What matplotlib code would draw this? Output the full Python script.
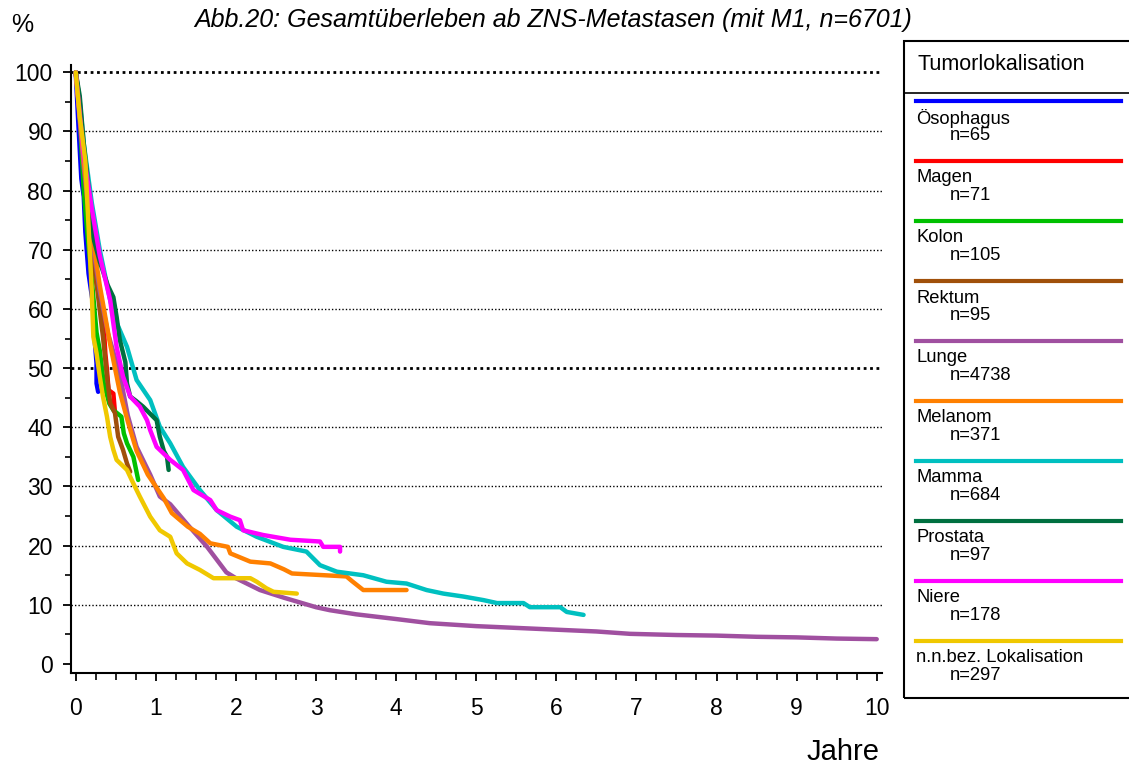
import matplotlib
matplotlib.use("Agg")
import matplotlib.pyplot as plt
from matplotlib.lines import Line2D
from matplotlib.patches import Rectangle

plt.rcParams['font.family'] = ['Liberation Sans', 'DejaVu Sans']

# ---------------- data (years, survival %) ----------------
names = ["Ösophagus", "Magen", "Kolon", "Rektum", "Lunge", "Melanom",
         "Mamma", "Prostata", "Niere", "n.n.bez. Lokalisation"]
counts = ["n=65", "n=71", "n=105", "n=95", "n=4738", "n=371",
          "n=684", "n=97", "n=178", "n=297"]
colors = ["#0000FF", "#FF0000", "#00C000", "#A0500A", "#A050A0",
          "#FF8000", "#00C0C0", "#007040", "#FF00FF", "#F0C800"]

oeso_t = [0, 0.03, 0.07, 0.10, 0.12, 0.16, 0.22, 0.24, 0.26, 0.26, 0.28]
oeso_s = [100, 92, 82, 79, 73, 66, 60.4, 54.2, 50.8, 47.4, 46.0]

magen_t = [0, 0.04, 0.07, 0.12, 0.18, 0.25, 0.34, 0.37, 0.39, 0.41, 0.47, 0.49]
magen_s = [100, 96, 90, 80, 72, 65, 59.3, 52.5, 49.7, 46.3, 45.7, 42.5]

kolon_t = [0, 0.04, 0.10, 0.15, 0.18, 0.22, 0.26, 0.30, 0.35, 0.42, 0.47, 0.57,
           0.60, 0.64, 0.72, 0.78]
kolon_s = [100, 95, 80, 72, 68, 62, 56, 53, 47.4, 44, 42.9, 41.8,
           39, 37.3, 35, 31.1]

rektum_t = [0, 0.05, 0.10, 0.15, 0.22, 0.26, 0.30, 0.34, 0.39, 0.43, 0.49,
            0.53, 0.59, 0.64, 0.68]
rektum_s = [100, 94, 85, 77, 69, 64.3, 59.8, 55.3, 48.6, 44.1, 42.4,
            38.4, 36.2, 33.9, 32.5]

lunge_t = [0, 0.05, 0.10, 0.20, 0.30, 0.40, 0.55, 0.65, 0.76, 0.93, 1.05, 1.18,
           1.40, 1.64, 1.88, 2.0, 2.3, 2.6, 3.0, 3.17, 3.5, 4.0, 4.42, 5.0,
           5.67, 6.0, 6.5, 6.92, 7.5, 8.0, 8.5, 9.0, 9.5, 10.0]
lunge_s = [100, 92, 84, 72, 63, 56, 49, 42, 36.7, 32, 28.3, 27,
           23.5, 19.8, 15.5, 14.5, 12.5, 11.2, 9.6, 9.1, 8.4, 7.6, 6.9, 6.4,
           6.0, 5.8, 5.5, 5.1, 4.9, 4.8, 4.6, 4.5, 4.3, 4.2]

melanom_t = [0, 0.05, 0.10, 0.20, 0.30, 0.43, 0.55, 0.65, 0.76, 0.90, 1.0, 1.1,
             1.2, 1.4, 1.55, 1.68, 1.90, 1.93, 2.18, 2.43, 2.6, 2.7, 3.38,
             3.45, 3.59, 4.13]
melanom_s = [100, 93, 85, 73, 64, 54, 46, 41, 36, 32, 30, 28,
             25.5, 23.2, 22, 20.4, 19.8, 18.7, 17.3, 17.0, 16, 15.3, 14.8,
             14, 12.5, 12.5]

mamma_t = [0, 0.05, 0.10, 0.20, 0.30, 0.43, 0.50, 0.64, 0.76, 0.93, 1.05,
           1.18, 1.34, 1.55, 1.76, 2.01, 2.26, 2.59, 2.88, 3.05, 3.26, 3.59,
           3.88, 4.13, 4.38, 4.59, 4.84, 5.09, 5.26, 5.59, 5.67, 6.05, 6.13,
           6.34]
mamma_s = [100, 95, 88, 78, 70, 61.5, 58, 53.6, 48, 44.6, 40.1,
           37.3, 33.3, 29.4, 26, 23.2, 21.5, 19.8, 19.0, 16.7, 15.6, 15.0,
           13.9, 13.6, 12.5, 11.9, 11.4, 10.8, 10.3, 10.3, 9.6, 9.6, 8.8,
           8.3]

prostata_t = [0, 0.05, 0.10, 0.18, 0.22, 0.30, 0.40, 0.47, 0.51, 0.55, 0.62,
              0.64, 0.68, 0.75, 0.84, 1.01, 1.05, 1.10, 1.14, 1.16]
prostata_s = [100, 96, 88, 78, 72, 68, 64, 62, 58.7, 54.8, 51,
              47.4, 45.2, 44.5, 43.5, 41.2, 38.4, 36, 35, 32.8]

niere_t = [0, 0.05, 0.10, 0.20, 0.30, 0.43, 0.51, 0.59, 0.68, 0.80, 0.89,
           0.93, 1.01, 1.18, 1.34, 1.47, 1.68, 1.76, 1.93, 2.05, 2.09, 2.34,
           2.68, 3.05, 3.09, 3.30, 3.30]
niere_s = [100, 93, 86, 77, 69, 61.5, 53.6, 48.6, 45.2, 43.5, 41.2,
           39.5, 36.7, 34.5, 32.8, 29.4, 27.7, 26.0, 24.9, 24.3, 22.6, 21.8,
           21.0, 20.7, 19.8, 19.8, 19.0]

nnbez_t = [0, 0.05, 0.12, 0.16, 0.20, 0.22, 0.26, 0.30, 0.34, 0.39, 0.43,
           0.47, 0.51, 0.64, 0.72, 0.80, 0.93, 1.05, 1.18, 1.26, 1.39, 1.55,
           1.72, 2.18, 2.26, 2.38, 2.47, 2.76]
nnbez_s = [100, 92.5, 85, 74, 63, 55.3, 52.5, 48.6, 45.2, 41.8, 38.4,
           36.2, 34.5, 32.8, 30.5, 28.3, 24.9, 22.6, 21.5, 18.7, 17.0, 15.9,
           14.5, 14.5, 13.9, 12.8, 12.2, 11.9]

series_t = [oeso_t, magen_t, kolon_t, rektum_t, lunge_t, melanom_t,
            mamma_t, prostata_t, niere_t, nnbez_t]
series_s = [oeso_s, magen_s, kolon_s, rektum_s, lunge_s, melanom_s,
            mamma_s, prostata_s, niere_s, nnbez_s]

x_ticks = list(range(0, 11))
y_ticks = list(range(0, 101, 10))
grid_levels = list(range(10, 101, 10))

title = "Abb.20: Gesamtüberleben ab ZNS-Metastasen (mit M1, n=6701)"

# ---------------- figure ----------------
W, H = 1129, 769
fig = plt.figure(figsize=(W / 100, H / 100), dpi=100)
ax = fig.add_axes([71 / W, 1 - 673.3 / H, (882 - 71) / W, (673.3 - 65) / H])

xmin, xmax = -0.059, 10.066
ax.set_xlim(xmin, xmax)
ax.set_ylim(-1.57, 101.23)

for lvl in grid_levels:
    heavy = lvl in (50, 100)
    ax.hlines(lvl, xmin, xmax, colors="black",
              linewidth=2.0 if heavy else 1.0,
              linestyles=(0, (1, 1.3)) if heavy else (0, (1, 1.5)), zorder=1)

for t, s, c in zip(series_t, series_s, colors):
    ax.plot(t, s, color=c, linewidth=3.2, solid_joinstyle="round",
            solid_capstyle="round", zorder=3)

for sp in ("top", "right"):
    ax.spines[sp].set_visible(False)
for sp in ("left", "bottom"):
    ax.spines[sp].set_linewidth(1.5)

ax.set_xticks(x_ticks)
ax.set_xticks([i * 0.25 for i in range(41)], minor=True)
ax.set_yticks(y_ticks)
ax.set_yticks(list(range(5, 100, 10)), minor=True)
ax.tick_params(axis="x", which="major", length=6, width=1.3, pad=11, labelsize=16.5)
ax.tick_params(axis="x", which="minor", length=5, width=1.2)
ax.tick_params(axis="y", which="major", length=6, width=1.3, pad=7, labelsize=16.5)
ax.tick_params(axis="y", which="minor", length=4, width=1.2)

fig.text(553 / W, 1 - 20 / H, title, ha="center", va="center",
         fontsize=18, style="italic")
fig.text(22 / W, 1 - 25 / H, "%", ha="center", va="center", fontsize=18)
fig.text(880 / W, 1 - 752 / H, "Jahre", ha="right", va="center", fontsize=21)

# ---------------- legend panel ----------------
tf = fig.transFigure
fig.patches.append(Rectangle((904 / W, 1 - 698 / H), (1140 - 904) / W,
                             (698 - 41) / H, transform=tf, fill=False,
                             edgecolor="black", linewidth=1.5))
fig.lines.append(Line2D([904 / W, 1], [1 - 93 / H, 1 - 93 / H], transform=tf,
                        color="black", linewidth=1.2))
fig.text(917 / W, 1 - 65 / H, "Tumorlokalisation", ha="left", va="center",
         fontsize=15.5)
for i, (nm, cnt, c) in enumerate(zip(names, counts, colors)):
    yl = 101 + 60 * i
    fig.lines.append(Line2D([916 / W, 1121 / W], [1 - yl / H, 1 - yl / H],
                            transform=tf, color=c, linewidth=3.0))
    fig.text(916 / W, 1 - (yl + 17) / H, nm, ha="left", va="center",
             fontsize=13.2)
    fig.text(950 / W, 1 - (yl + 35) / H, cnt, ha="left", va="center",
             fontsize=13.2)

fig.savefig("out.png", dpi=100)
